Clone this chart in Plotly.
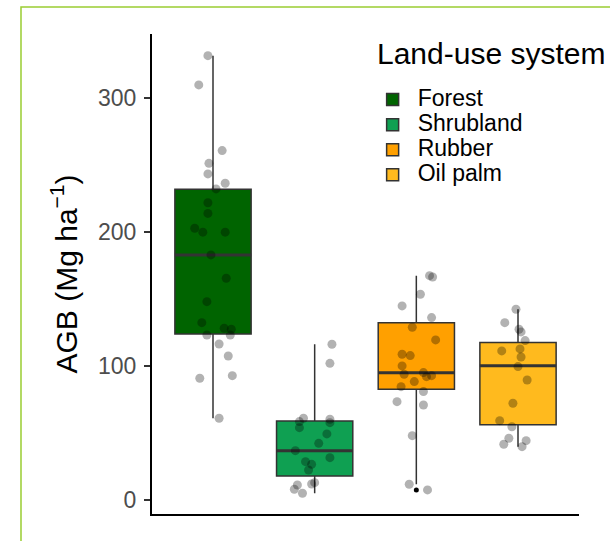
import plotly.graph_objects as go

# Land-use systems and their category positions on the x axis
systems = ["Forest", "Shrubland", "Rubber", "Oil palm"]
positions = [1, 2, 3, 4]
fill_colors = ["#006400", "#0FA052", "#FFA000", "#FFBA1E"]

# Box-plot summary statistics of AGB (Mg ha-1)
q1 = [124.0, 17.9, 82.7, 56.2]
median = [183.0, 36.8, 95.0, 100.3]
q3 = [232.0, 59.0, 132.4, 117.5]
lower_whisker = [61.0, 5.0, 11.7, 39.8]
upper_whisker = [331.8, 116.3, 167.5, 142.4]

# Plot-level observations with their horizontal jitter (category units)
forest_agb = [331.8, 310.0, 260.9, 251.4, 243.5, 236.5, 232.3, 222.0, 214.0,
              202.9, 200.0, 200.0, 183.0, 165.6, 148.1, 132.4, 128.2, 127.5,
              123.2, 123.2, 116.5, 107.5, 90.9, 92.8, 61.0]
forest_jitter = [-0.05, -0.14, 0.09, -0.04, -0.05, 0.12, 0.03, -0.05, -0.05,
                 -0.18, -0.10, 0.12, -0.02, 0.13, -0.06, -0.11, 0.11, 0.18,
                 -0.06, 0.17, 0.06, 0.15, -0.13, 0.19, 0.06]

shrubland_agb = [116.3, 102.0, 61.0, 58.5, 54.0, 60.3, 57.7, 49.3, 42.3, 36.8,
                 31.6, 28.6, 26.6, 22.4, 12.9, 11.9, 11.2, 8.0, 5.0]
shrubland_jitter = [0.17, 0.15, -0.11, -0.15, -0.15, 0.15, 0.15, 0.12, 0.04,
                    -0.19, 0.15, -0.09, -0.03, -0.06, 0.00, -0.03, -0.17,
                    -0.20, -0.12]

rubber_agb = [167.5, 166.5, 153.6, 144.9, 136.2, 129.0, 119.5, 108.8, 107.8,
              100.1, 93.9, 95.1, 92.1, 92.8, 88.4, 84.6, 80.9, 73.4, 70.9,
              48.0, 11.7, 7.5]
rubber_jitter = [0.13, 0.16, 0.04, -0.14, 0.15, -0.04, 0.19, -0.14, -0.06,
                 -0.14, -0.12, 0.07, 0.10, 0.15, -0.02, -0.15, 0.07, -0.19,
                 0.07, -0.04, -0.07, 0.11]

oilpalm_agb = [142.4, 132.4, 127.5, 125.5, 119.0, 111.3, 112.8, 106.8, 99.6,
               89.6, 72.2, 59.2, 54.7, 46.1, 44.3, 41.6, 39.8]
oilpalm_jitter = [-0.02, -0.13, 0.01, 0.03, 0.07, -0.16, 0.02, 0.03, 0.00,
                  0.09, -0.05, -0.18, -0.06, -0.09, 0.08, -0.14, 0.04]

# Box-plot outliers (beyond 1.5 x IQR)
outlier_system = [3]
outlier_agb = [7.5]

observations = [
    (forest_agb, forest_jitter),
    (shrubland_agb, shrubland_jitter),
    (rubber_agb, rubber_jitter),
    (oilpalm_agb, oilpalm_jitter),
]

FONT = "Liberation Sans, Arial, Helvetica, sans-serif"
EDGE = "#333333"
BOX_WIDTH = 0.75

fig = go.Figure()

# Boxes with whiskers; legend labels use a larger glyph size than the
# legend's base font so the entries stay tightly stacked
for i, name in enumerate(systems):
    fig.add_trace(go.Box(
        name=f'<span style="font-size:23px">{name}</span>',
        x=[positions[i]],
        q1=[q1[i]], median=[median[i]], q3=[q3[i]],
        lowerfence=[lower_whisker[i]], upperfence=[upper_whisker[i]],
        width=BOX_WIDTH,
        whiskerwidth=0,
        fillcolor=fill_colors[i],
        line=dict(color=EDGE, width=1.5),
        boxpoints=False,
        hoverinfo="skip",
        showlegend=True,
    ))

# Thicker median bars drawn as flat boxes
for i, name in enumerate(systems):
    fig.add_trace(go.Box(
        x=[positions[i]],
        q1=[median[i]], median=[median[i]], q3=[median[i]],
        lowerfence=[median[i]], upperfence=[median[i]],
        width=BOX_WIDTH,
        whiskerwidth=0,
        fillcolor="rgba(0,0,0,0)",
        line=dict(color=EDGE, width=3),
        boxpoints=False,
        hoverinfo="skip",
        showlegend=False,
    ))

# Outlier marker
fig.add_trace(go.Scatter(
    x=outlier_system, y=outlier_agb, mode="markers",
    marker=dict(color="black", size=5),
    hoverinfo="skip", showlegend=False,
))

# Jittered observations
for i, (agb, jit) in enumerate(observations):
    fig.add_trace(go.Scatter(
        x=[positions[i] + j for j in jit],
        y=agb,
        mode="markers",
        marker=dict(color="rgba(0,0,0,0.3)", size=9, line=dict(width=0)),
        hoverinfo="skip",
        showlegend=False,
    ))

fig.update_layout(
    width=610, height=541,
    margin=dict(l=152, r=31, t=34, b=27, autoexpand=False),
    paper_bgcolor="white",
    plot_bgcolor="white",
    font=dict(family=FONT, color="black"),
    boxmode="overlay",
    showlegend=True,
    legend=dict(
        font=dict(size=17, family=FONT, color="black"),
        x=0.505, y=0.9, xanchor="left", yanchor="top",
        itemwidth=40,
        bgcolor="rgba(0,0,0,0)",
        tracegroupgap=0,
    ),
    annotations=[
        # legend heading
        dict(text="Land-use system", xref="paper", yref="paper",
             x=0.522, y=0.92, xanchor="left", yanchor="bottom",
             showarrow=False, font=dict(size=30, family=FONT, color="black")),
    ],
    xaxis=dict(
        range=[0.4, 4.6],
        showticklabels=False,
        ticks="",
        showgrid=False,
        zeroline=False,
        showline=True,
        linecolor="black",
        linewidth=2,
        fixedrange=True,
    ),
    yaxis=dict(
        range=[-10.5, 348],
        tickvals=[0, 100, 200, 300],
        ticks="outside",
        ticklen=6,
        tickwidth=1.5,
        tickcolor=EDGE,
        tickfont=dict(size=23, color="#4D4D4D", family=FONT),
        ticklabelstandoff=3,
        showgrid=False,
        zeroline=False,
        showline=True,
        linecolor="black",
        linewidth=2,
        title=dict(text="AGB (Mg ha<sup>−1</sup>)", font=dict(size=30, family=FONT, color="black"),
                   standoff=12),
        automargin=False,
        fixedrange=True,
    ),
    shapes=[
        # thin frame around the figure
        dict(type="rect", xref="paper", yref="paper",
             x0=-0.3068, x1=1.2, y0=-0.2, y1=1.0563,
             line=dict(color="#9ACD32", width=1.5), fillcolor="rgba(0,0,0,0)",
             layer="below"),
    ],
)

fig.write_html("out.html")
